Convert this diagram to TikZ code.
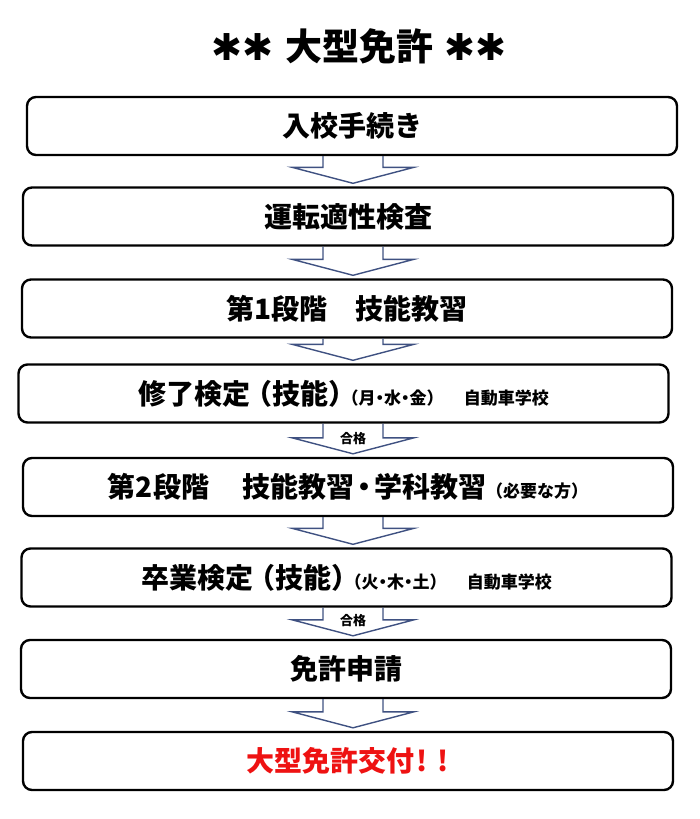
\documentclass[tikz,border=0pt]{standalone}
\usepackage{fontspec}
\newfontfamily\jpfont{Noto Sans CJK JP}
\newfontfamily\jphalt{Noto Sans CJK JP}[RawFeature=+halt]
\newfontfamily\symfont{DejaVu Sans}
\usetikzlibrary{calc}
\definecolor{arrowblue}{RGB}{63,81,129}
\definecolor{issuered}{RGB}{238,18,18}
\begin{document}
\begin{tikzpicture}[x=1pt, y=-1pt,
  flowbox/.style={draw=black, line width=2.4pt, rounded corners=9pt, fill=white,
    minimum width=650pt, minimum height=58pt, inner sep=0pt,
    font=\jpfont\bfseries\fontsize{28}{30}\selectfont},
  flowarrow/.style={draw=arrowblue, line width=1.4pt},
  passlabel/.style={font=\jpfont\bfseries\fontsize{13}{14}\selectfont}]

  \newcommand\AX{353};
  \newcommand\sub{\fontsize{17}{19}\selectfont};
  \newcommand\hw[1]{{\jphalt #1}};
  \newcommand\lp{\hspace{8pt}\hw{（}};
  \newcommand\rp{\hw{）}\hspace{8pt}};
  % block arrow from box #1 down to box #2
  \newcommand\Arr[2]{\draw[flowarrow] ($(axis |- #1.south)+(-30,0)$) -- ($(axis |- #2.north)+(-30,-19)$)
    -- ($(axis |- #2.north)+(-61,-19)$) -- ($(axis |- #2.north)+(0,-3)$)
    -- ($(axis |- #2.north)+(61,-19)$) -- ($(axis |- #2.north)+(30,-19)$)
    -- ($(axis |- #1.south)+(30,0)$);}

  \useasboundingbox (0,0) rectangle (700,819);
  \coordinate (axis) at (\AX,0);

  \node[font=\fontsize{37}{40}\selectfont] (title) at (359,46)
    {{\symfont\bfseries ✱✱} {\jpfont\bfseries 大型免許} {\symfont\bfseries ✱✱}};

  \node[flowbox] (entry) at (352,126) {入校手続き};
  \node[flowbox] (aptitude) at (348,216.5) {運転適性検査};
  \node[flowbox] (stage1) at (347,308.5) {第1段階　技能教習};
  \node[flowbox] (exam1) at (343.5,393.5) {修了検定\lp 技能\rp{\sub\hw{（月・水・金）}\hspace{29pt}自動車学校}};
  \node[flowbox] (stage2) at (348,487) {第2段階　\hspace{5pt}技能教習\hspace{3pt}\hw{・}\hspace{3pt}学科教習{\sub（必要な方）}};
  \node[flowbox] (exam2) at (346.5,577.5) {卒業検定\lp 技能\rp{\sub\hw{（火・木・土）}\hspace{29pt}自動車学校}};
  \node[flowbox] (apply) at (346,669) {免許申請};
  \node[flowbox, text=issuered] (issue) at (348,761) {大型免許交付\hspace{2pt}!\hspace{10pt}!};

  \Arr{entry}{aptitude} %% entry->aptitude
  \Arr{aptitude}{stage1} %% aptitude->stage1
  \Arr{stage1}{exam1} %% stage1->exam1
  \Arr{exam1}{stage2} %% exam1->stage2
  \Arr{stage2}{exam2} %% stage2->exam2
  \Arr{exam2}{apply} %% exam2->apply
  \Arr{apply}{issue} %% apply->issue

  \node[passlabel] (pass1) at ($(axis |- stage2.north)+(0,-18)$) {合格};
  \node[passlabel] (pass2) at ($(axis |- apply.north)+(0,-18)$) {合格};
\end{tikzpicture}
\end{document}
